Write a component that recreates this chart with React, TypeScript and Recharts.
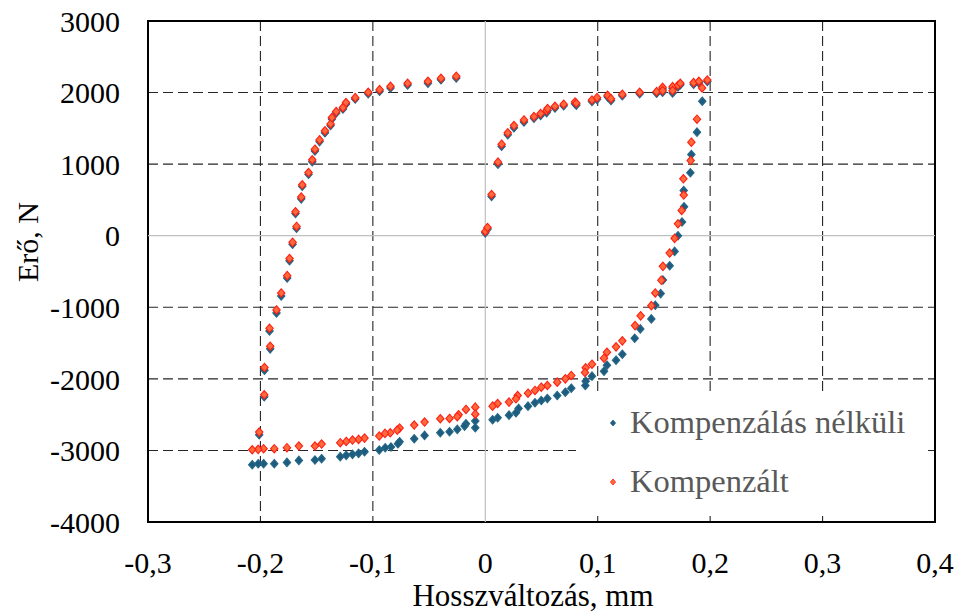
import React from 'react';
import {
  ScatterChart,
  Scatter,
  XAxis,
  YAxis,
  CartesianGrid,
  ReferenceLine,
  ReferenceArea,
  Legend,
} from 'recharts';

// [Hosszváltozás (mm), Erő (N)], in loading order
const uncompensated: [number, number][] = [
  [0.0, 40], [0.002, 95], [0.0056, 550], [0.0113, 1000], [0.0145, 1250], [0.02, 1410],
  [0.0255, 1510], [0.0344, 1590], [0.0433, 1640], [0.0492, 1680], [0.0546, 1720], [0.0554, 1750],
  [0.062, 1785], [0.0697, 1815], [0.0798, 1845], [0.081, 1825], [0.0949, 1875], [0.0994, 1905],
  [0.1088, 1940], [0.1118, 1890], [0.1219, 1955], [0.1373, 1985], [0.1524, 1990], [0.1577, 2050],
  [0.1577, 2005], [0.1666, 2060], [0.1666, 1995], [0.1714, 2080], [0.1735, 2110], [0.1853, 2115],
  [0.19, 2135], [0.1975, 2155],
  [0.193, 1879], [0.1883, 1447], [0.1833, 1134], [0.1824, 879], [0.1765, 632], [0.1768, 405],
  [0.175, 191], [0.1714, 0], [0.1684, -219], [0.164, -419], [0.158, -619], [0.156, -809],
  [0.1512, -972], [0.1477, -1162], [0.1379, -1302], [0.1329, -1433], [0.1219, -1656], [0.1163, -1739],
  [0.1082, -1809], [0.1056, -1893], [0.0949, -1962], [0.0893, -2032], [0.089, -2093], [0.0765, -2130],
  [0.0712, -2186], [0.064, -2232], [0.0552, -2274], [0.0498, -2302], [0.0442, -2334], [0.038, -2381],
  [0.0296, -2413], [0.0273, -2473], [0.0211, -2507], [0.011, -2543], [0.0065, -2571],
  [-0.0089, -2590], [-0.0089, -2683], [-0.0172, -2627], [-0.0184, -2660], [-0.0249, -2706],
  [-0.0318, -2739], [-0.04, -2753], [-0.054, -2790], [-0.0632, -2836], [-0.0762, -2878],
  [-0.0777, -2906], [-0.0839, -2953], [-0.089, -2962], [-0.0943, -2995], [-0.1074, -3018],
  [-0.1127, -3041], [-0.1181, -3055], [-0.1237, -3069], [-0.129, -3087], [-0.1456, -3115],
  [-0.1515, -3135], [-0.1658, -3139], [-0.1764, -3167], [-0.1877, -3185], [-0.1972, -3185],
  [-0.202, -3185], [-0.2073, -3199],
  [-0.2011, -2780], [-0.1966, -2250], [-0.1964, -1879], [-0.1913, -1581], [-0.1919, -1330],
  [-0.1857, -1079], [-0.1815, -842], [-0.1762, -590], [-0.1741, -349], [-0.1714, -120],
  [-0.1679, 105], [-0.1688, 310], [-0.1637, 515], [-0.1628, 690], [-0.1572, 860], [-0.1539, 1035],
  [-0.1515, 1185], [-0.1474, 1315], [-0.1426, 1440], [-0.1376, 1540], [-0.1364, 1630],
  [-0.1326, 1715], [-0.1266, 1770], [-0.1239, 1840], [-0.1157, 1910], [-0.1041, 1985],
  [-0.094, 2020], [-0.0843, 2065], [-0.0691, 2105], [-0.051, 2130], [-0.0394, 2180], [-0.0258, 2205],
];

const compensated: [number, number][] = [
  [0.0, 60], [0.002, 115], [0.0056, 576], [0.0113, 1028], [0.0145, 1279], [0.02, 1437],
  [0.0255, 1539], [0.0344, 1618], [0.0433, 1664], [0.0492, 1706], [0.0546, 1748], [0.0554, 1776],
  [0.062, 1809], [0.0697, 1837], [0.0798, 1869], [0.081, 1851], [0.0949, 1897], [0.0994, 1929],
  [0.1088, 1962], [0.1118, 1915], [0.1219, 1976], [0.1373, 2004], [0.1524, 2013], [0.1577, 2074],
  [0.1577, 2027], [0.1666, 2083], [0.1666, 2027], [0.1714, 2102], [0.1735, 2130], [0.1853, 2139],
  [0.19, 2158], [0.1975, 2176],
  [0.1928, 2065], [0.1883, 1628], [0.1833, 1307], [0.1827, 1050], [0.1762, 795], [0.1765, 568],
  [0.1747, 353], [0.1714, 167], [0.1684, -37], [0.164, -242], [0.158, -428], [0.1566, -623],
  [0.1512, -800], [0.1477, -977], [0.1382, -1120], [0.1332, -1256], [0.1219, -1469], [0.1163, -1553],
  [0.1082, -1628], [0.1056, -1711], [0.0949, -1795], [0.0893, -1846], [0.0887, -1911], [0.0765, -1953],
  [0.0712, -2000], [0.064, -2046], [0.0552, -2093], [0.0498, -2116], [0.0442, -2162], [0.038, -2200],
  [0.0288, -2232], [0.0273, -2279], [0.0211, -2325], [0.011, -2344], [0.0065, -2381],
  [-0.0089, -2395], [-0.0089, -2493], [-0.0172, -2427], [-0.0237, -2502], [-0.0249, -2529],
  [-0.0318, -2553], [-0.04, -2557], [-0.054, -2604], [-0.0632, -2646], [-0.0762, -2688],
  [-0.0783, -2716], [-0.0845, -2753], [-0.0892, -2762], [-0.0943, -2799], [-0.1074, -2828],
  [-0.1127, -2846], [-0.1181, -2855], [-0.1237, -2874], [-0.129, -2892], [-0.1456, -2911],
  [-0.1515, -2939], [-0.1658, -2939], [-0.1764, -2962], [-0.1877, -2976], [-0.1972, -2976],
  [-0.202, -2985], [-0.2073, -2990],
  [-0.2011, -2744], [-0.1966, -2222], [-0.1964, -1841], [-0.1913, -1544], [-0.1919, -1293],
  [-0.1857, -1037], [-0.1815, -800], [-0.1762, -558], [-0.1741, -318], [-0.1714, -93],
  [-0.1679, 130], [-0.1688, 335], [-0.1637, 540], [-0.1628, 711], [-0.1572, 883], [-0.1539, 1060],
  [-0.1515, 1209], [-0.1474, 1339], [-0.1426, 1465], [-0.1376, 1562], [-0.1364, 1650],
  [-0.1326, 1734], [-0.1266, 1790], [-0.1239, 1860], [-0.1157, 1929], [-0.1041, 2004],
  [-0.094, 2041], [-0.0843, 2088], [-0.0691, 2130], [-0.051, 2158], [-0.0394, 2200], [-0.0258, 2228],
];

const xTicks = [-0.3, -0.2, -0.1, 0, 0.1, 0.2, 0.3, 0.4];
const yTicks = [-4000, -3000, -2000, -1000, 0, 1000, 2000, 3000];
const xGrid = [-0.2, -0.1, 0.1, 0.2, 0.3];
const yGrid = [-3000, -2000, -1000, 1000, 2000];

const FONT = '"Liberation Serif", "Times New Roman", serif';
const W = 958;
const H = 615;
const PLOT_LEFT = 148;
const PLOT_TOP = 21;
const PLOT_RIGHT = 935;
const PLOT_BOTTOM = 522;

const SERIES = [
  { name: 'Kompenzálás nélküli', points: uncompensated, fill: '#1D5C7E', stroke: '#276887' },
  { name: 'Kompenzált', points: compensated, fill: '#FF6A3C', stroke: '#FF1E12' },
];

const makeDiamond = (fill: string, stroke: string) => (props: any) => {
  const { cx, cy } = props;
  if (cx == null || cy == null) return <g />;
  return (
    <polygon
      points={`${cx},${cy - 4.2} ${cx + 3.7},${cy} ${cx},${cy + 4.2} ${cx - 3.7},${cy}`}
      fill={fill}
      stroke={stroke}
      strokeWidth={1.1}
    />
  );
};

const fmt = (v: number) => String(v).replace('.', ',');

const LegendBox = () => (
  <svg width={352} height={118} style={{ display: 'block' }}>
    {SERIES.map((s, i) => {
      const cy = 29 + i * 59;
      return (
        <g key={s.name}>
          <polygon
            points={`37,${cy - 3} 39.6,${cy} 37,${cy + 3} 34.4,${cy}`}
            fill={s.fill}
            stroke={s.stroke}
            strokeWidth={0.8}
          />
          <text x={54} y={cy + 10} fontSize={32.5} fill="#595959" fontFamily={FONT}>
            {s.name}
          </text>
        </g>
      );
    })}
  </svg>
);

const XTitle = () => (
  <text
    x={533}
    y={H - 9}
    textAnchor="middle"
    fontSize={31}
    fill="#000"
    fontFamily={FONT}
  >
    Hosszváltozás, mm
  </text>
);

const YTitle = () => {
  const cx = 38;
  const cy = 242;
  return (
    <text
      x={cx}
      y={cy}
      transform={`rotate(-90 ${cx} ${cy})`}
      textAnchor="middle"
      fontSize={30}
      fill="#000"
      fontFamily={FONT}
    >
      Erő, N
    </text>
  );
};

export default function App() {
  return (
    <div style={{ position: 'absolute', left: 0, top: 0, width: W, height: H, background: '#fff' }}>
      <ScatterChart
        width={W}
        height={H}
        margin={{ top: PLOT_TOP, right: W - PLOT_RIGHT, left: 0, bottom: 0 }}
      >
        <CartesianGrid
          stroke="#262626"
          strokeDasharray="10 5"
          strokeWidth={1.1}
          horizontalValues={yGrid}
          verticalValues={xGrid}
        />
        <ReferenceLine x={0} stroke="#BFBFBF" strokeWidth={1.2} />
        <ReferenceLine y={0} stroke="#BFBFBF" strokeWidth={1.2} />
        <XAxis
          type="number"
          dataKey="x"
          domain={[-0.3, 0.4]}
          ticks={xTicks}
          interval={0}
          tickFormatter={fmt}
          axisLine={false}
          tickLine={false}
          tickSize={0}
          tickMargin={30}
          height={H - PLOT_BOTTOM}
          tick={{ fontSize: 30, fill: '#000', fontFamily: FONT }}
          label={<XTitle />}
        />
        <YAxis
          type="number"
          dataKey="y"
          domain={[-4000, 3000]}
          ticks={yTicks}
          interval={0}
          axisLine={false}
          tickLine={false}
          tickSize={0}
          tickMargin={28}
          width={PLOT_LEFT}
          tick={{ fontSize: 30, fill: '#000', fontFamily: FONT }}
          label={<YTitle />}
        />
        <ReferenceArea
          x1={-0.3}
          x2={0.4}
          y1={-4000}
          y2={3000}
          fill="none"
          fillOpacity={0}
          stroke="#000"
          strokeWidth={2}
        />
        {SERIES.map((s) => (
          <Scatter
            key={s.name}
            name={s.name}
            data={s.points.map(([x, y]) => ({ x, y }))}
            fill={s.fill}
            shape={makeDiamond(s.fill, s.stroke)}
            isAnimationActive={false}
          />
        ))}
        <Legend
          layout="vertical"
          align="center"
          verticalAlign="middle"
          wrapperStyle={{ left: 576, top: 394, width: 352, height: 118, backgroundColor: '#fff' }}
          content={() => <LegendBox />}
        />
      </ScatterChart>
    </div>
  );
}
